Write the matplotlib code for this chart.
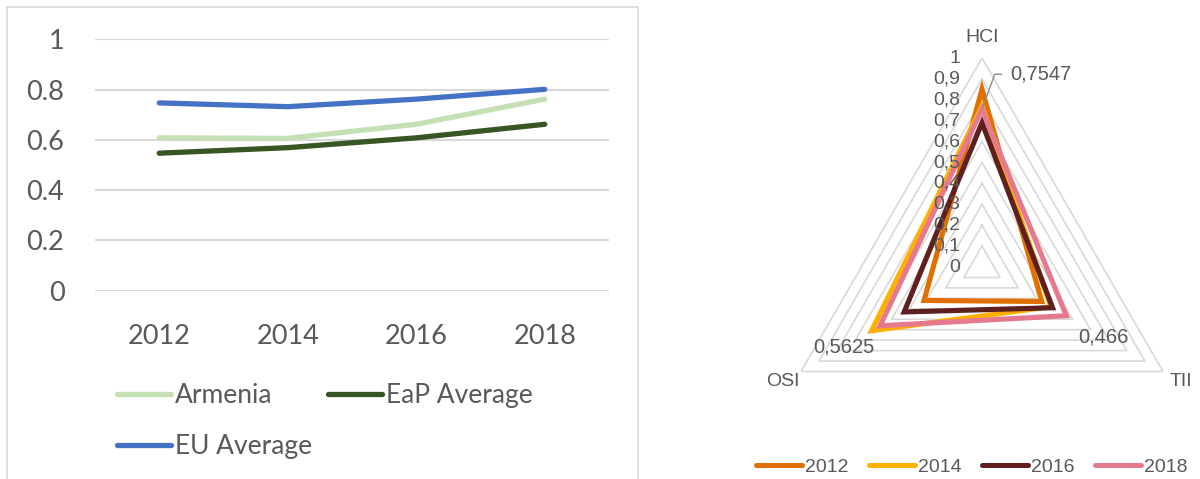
import numpy as np
import matplotlib
matplotlib.use("Agg")
import matplotlib.pyplot as plt
from matplotlib.lines import Line2D

# --- Left chart data (readiness index) ---
years = ["2012", "2014", "2016", "2018"]
armenia = [0.608, 0.606, 0.662, 0.762]
eap_avg = [0.547, 0.569, 0.608, 0.662]
eu_avg = [0.747, 0.732, 0.762, 0.801]

# --- Radar data ---
radar_axes = ["HCI", "TII", "OSI"]
radar_years = ["2012", "2014", "2016", "2018"]
radar_vals = {
    "2012": [0.85, 0.33, 0.32],
    "2014": [0.77, 0.38, 0.61],
    "2016": [0.69, 0.39, 0.43],
    "2018": [0.7547, 0.466, 0.5625],
}
radar_labels = ["0,7547", "0,466", "0,5625"]  # data labels for 2018
radial_ticks = [0, 0.1, 0.2, 0.3, 0.4, 0.5, 0.6, 0.7, 0.8, 0.9, 1.0]

W, H = 1200, 479
fig = plt.figure(figsize=(W / 100, H / 100), dpi=100)
txt = "#595959"
grid_c = "#D9D9D9"

# --- Left panel border ---
bx0, bx1, by = 7 / W, 638 / W, 1 - 7 / H
for xs, ys in [([bx0, bx0], [0, by]), ([bx0, bx1], [by, by]), ([bx1, bx1], [by, 0])]:
    fig.add_artist(Line2D(xs, ys, color=grid_c, lw=1.2, transform=fig.transFigure))

# --- Line chart ---
ax = fig.add_axes([95 / W, (H - 290.7) / H, 514 / W, 251.4 / H])
x = np.arange(len(years))
l_arm, = ax.plot(x, armenia, color="#C5E0B4", lw=3.8, solid_capstyle="round", label="Armenia")
l_eap, = ax.plot(x, eap_avg, color="#375623", lw=3.8, solid_capstyle="round", label="EaP Average")
l_eu, = ax.plot(x, eu_avg, color="#4472C4", lw=3.8, solid_capstyle="round", label="EU Average")
for l in (l_arm, l_eap, l_eu):
    l.set_clip_on(False)
ax.set_xlim(-0.5, 3.5)
ax.set_ylim(0, 1)
ax.set_yticks([0, 0.2, 0.4, 0.6, 0.8, 1.0])
ax.set_yticklabels(["0", "0.2", "0.4", "0.6", "0.8", "1"])
ax.set_xticks(x)
ax.set_xticklabels(years)
for s in ax.spines.values():
    s.set_visible(False)
ax.yaxis.grid(True, color=grid_c, lw=1.5)
ax.set_axisbelow(True)
ax.tick_params(axis="y", length=0, pad=22, labelsize=19.5, labelcolor=txt)
ax.tick_params(axis="x", length=0, pad=24, labelsize=19.5, labelcolor=txt)
for t in ax.get_xticklabels() + ax.get_yticklabels():
    t.set_fontfamily("Lato")

leg = ax.legend(handles=[l_arm, l_eu, l_eap], ncol=2, frameon=False,
                loc="upper left", bbox_to_anchor=(117 / W, 1 - 383 / H),
                bbox_transform=fig.transFigure, borderpad=0, borderaxespad=0,
                handlelength=2.05, handletextpad=0.15, columnspacing=0.6,
                labelspacing=0.98, prop={"family": "Lato", "size": 19})
for t in leg.get_texts():
    t.set_color(txt)

# --- Radar chart ---
cx, cy, R = 982, 267, 209
rax = fig.add_axes([(cx - R) / W, (H - cy - R) / H, 2 * R / W, 2 * R / H], projection="polar")
rax.set_theta_offset(np.pi / 2)
rax.set_theta_direction(-1)
rax.set_ylim(0, 1)
rax.grid(False)
rax.spines["polar"].set_visible(False)
rax.set_xticks([])
rax.set_yticks([])
rax.patch.set_alpha(0)

theta = np.array([0, 2 * np.pi / 3, 4 * np.pi / 3])
theta_c = np.append(theta, theta[0])
for r in radial_ticks[1:]:
    rax.plot(theta_c, [r] * 4, color=grid_c, lw=1.2, zorder=1)

radar_colors = {"2012": "#E07000", "2014": "#FFB000", "2016": "#5E1F1F", "2018": "#E57A8E"}
handles = []
for yr in radar_years:
    v = radar_vals[yr]
    rax.fill(theta, v, fill=False, edgecolor=radar_colors[yr], lw=3.7,
             joinstyle="miter", zorder=3)
    handles.append(Line2D([], [], color=radar_colors[yr], lw=3.6, solid_capstyle="round", label=yr))

for r in radial_ticks:
    lab = ("%g" % r).replace(".", ",")
    rax.annotate(lab, xy=(0, r), xytext=(-22, 0), textcoords="offset pixels",
                 ha="right", va="center", fontsize=14, color=txt,
                 family="Liberation Sans", annotation_clip=False, zorder=5)

for name, th in zip(radar_axes, theta):
    rax.text(th, 1.1, name, ha="center", va="center", fontsize=14, color=txt,
             family="Liberation Sans")

v18 = radar_vals["2018"]
rax.annotate(radar_labels[0], xy=(theta[0], v18[0]), xytext=(28, 35),
             textcoords="offset pixels", ha="left", va="center", fontsize=14.5,
             color=txt, family="Liberation Sans", annotation_clip=False,
             arrowprops=dict(arrowstyle="-", color="#8C8C8C", lw=1.0, shrinkA=4, shrinkB=0,
                             connectionstyle="angle,angleA=180,angleB=70,rad=0"))
rax.annotate(radar_labels[1], xy=(theta[1], v18[1]), xytext=(37, -21),
             textcoords="offset pixels", ha="center", va="center", fontsize=14.5,
             color=txt, family="Liberation Sans", annotation_clip=False)
rax.annotate(radar_labels[2], xy=(theta[2], v18[2]), xytext=(-36, -21),
             textcoords="offset pixels", ha="center", va="center", fontsize=14.5,
             color=txt, family="Liberation Sans", annotation_clip=False)

rleg = fig.legend(handles=handles, ncol=4, frameon=False, loc="center left",
                  bbox_to_anchor=(756 / W, 1 - 467 / H), borderpad=0, borderaxespad=0,
                  handlelength=2.35, handletextpad=0.15, columnspacing=1.08,
                  prop={"family": "Liberation Sans", "size": 14})
for t in rleg.get_texts():
    t.set_color(txt)

fig.savefig("out.png", dpi=100, facecolor="white")
